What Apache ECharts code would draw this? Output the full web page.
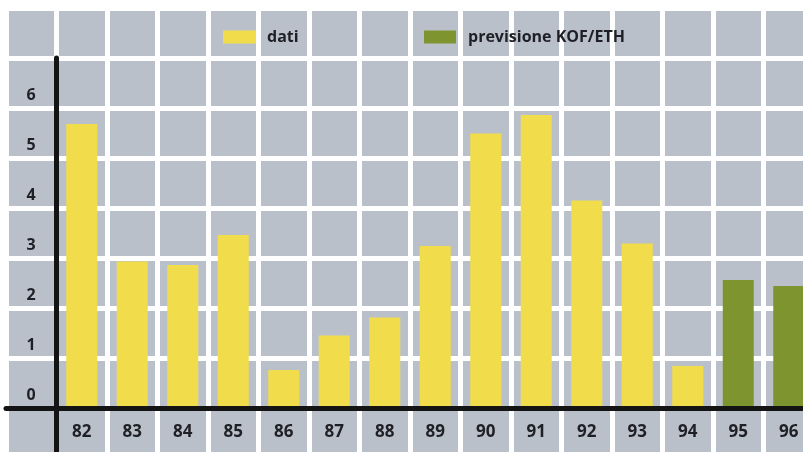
<!doctype html>
<html>
<head>
  <meta charset="UTF-8">
  <title>dati / previsione KOF/ETH</title>
  <script src="https://cdn.jsdelivr.net/npm/echarts@6/dist/echarts.min.js"></script>
  <style>
    html, body { margin: 0; padding: 0; background: #ffffff; }
  </style>
</head>
<body>
  <div id="chart" style="width: 803px; height: 452px;"></div>
  <script>
    // anni (asse x)
    var years = ['82', '83', '84', '85', '86', '87', '88', '89', '90', '91', '92', '93', '94', '95', '96'];
    // valori
    var dati = [5.68, 2.93, 2.86, 3.46, 0.76, 1.45, 1.81, 3.24, 5.49, 5.86, 4.15, 3.29, 0.84, '-', '-'];
    var previsione = ['-', '-', '-', '-', '-', '-', '-', '-', '-', '-', '-', '-', '-', 2.56, 2.44];
    var yTickLabels = ['0', '1', '2', '3', '4', '5', '6'];

    var ink = '#1f1f26';
    var font = 'Open Sans';

    var myChart = echarts.init(document.getElementById('chart'));

    var option = {
      backgroundColor: '#ffffff',
      animation: false,
      legend: [{
        data: ['dati'],
        left: 218,
        top: 24,
        itemWidth: 33,
        itemHeight: 13,
        icon: 'rect',
        textStyle: { color: ink, fontFamily: font, fontWeight: 'bold', fontSize: 16, padding: [0, 0, 0, 6] }
      }, {
        data: ['previsione KOF/ETH'],
        left: 419,
        top: 24,
        itemWidth: 32,
        itemHeight: 13,
        icon: 'rect',
        textStyle: { color: ink, fontFamily: font, fontWeight: 'bold', fontSize: 16, padding: [0, 0, 0, 7] }
      }],
      grid: [
        // grid con le barre
        { left: 56.5, right: -11, top: 58, bottom: 0, containLabel: false, outerBoundsMode: 'none' },
        // sfondo a quadretti
        { left: 6, right: -11, top: 8, bottom: -6, containLabel: false, outerBoundsMode: 'none',
          show: true, backgroundColor: '#bac0ca', borderWidth: 0 }
      ],
      xAxis: [{
        gridIndex: 0,
        type: 'category',
        data: years,
        position: 'bottom',
        offset: -44,
        z: 3,
        axisLine: { show: true, onZero: false, lineStyle: { color: '#141414', width: 5 } },
        axisTick: { show: false },
        splitLine: { show: false },
        axisLabel: { color: ink, fontFamily: font, fontWeight: 'bold', fontSize: 17, margin: 16 }
      }, {
        gridIndex: 1,
        type: 'value',
        min: -1,
        max: 15,
        interval: 1,
        axisLine: { show: true, onZero: true, lineStyle: { color: '#141414', width: 5 } },
        axisTick: { show: false },
        axisLabel: { show: false },
        splitLine: { show: true, lineStyle: { color: '#ffffff', width: 5 } }
      }],
      yAxis: [{
        gridIndex: 0,
        type: 'value',
        min: -0.88,
        max: 7,
        z: 3,
        axisLine: { show: true, lineStyle: { color: '#141414', width: 5 } },
        axisTick: { show: false },
        axisLabel: { show: false },
        splitLine: { show: false }
      }, {
        gridIndex: 1,
        type: 'value',
        min: -1,
        max: 8,
        interval: 1,
        axisLine: { show: false, onZero: false },
        axisTick: { show: false },
        axisLabel: {
          inside: true,
          margin: 25,
          align: 'center',
          verticalAlign: 'bottom',
          lineHeight: 25,
          color: ink,
          fontFamily: font,
          fontWeight: 'bold',
          fontSize: 16,
          formatter: function (v) {
            return (v >= 0 && v < yTickLabels.length) ? yTickLabels[v] : '';
          }
        },
        splitLine: { show: true, lineStyle: { color: '#ffffff', width: 5 } }
      }],
      series: [{
        name: 'dati',
        type: 'bar',
        xAxisIndex: 0,
        yAxisIndex: 0,
        barWidth: 31,
        barGap: '-100%',
        itemStyle: { color: '#f1dd4c' },
        data: dati
      }, {
        name: 'previsione KOF/ETH',
        type: 'bar',
        xAxisIndex: 0,
        yAxisIndex: 0,
        barWidth: 31,
        barGap: '-100%',
        itemStyle: { color: '#7e952f' },
        data: previsione
      }]
    };

    myChart.setOption(option);
  </script>
</body>
</html>
